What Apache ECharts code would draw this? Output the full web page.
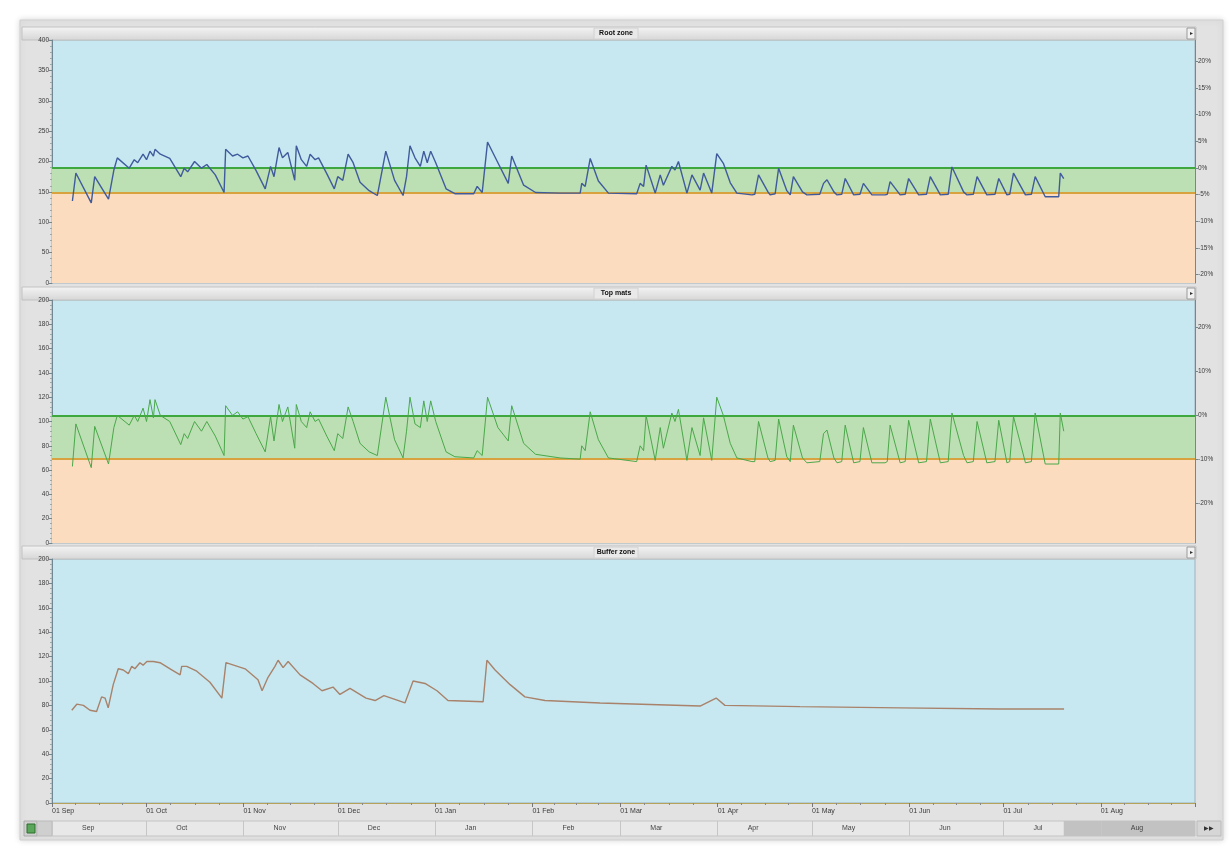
<!DOCTYPE html>
<html>
<head>
<meta charset="utf-8">
<title>Substrate sensors</title>
<script src="https://cdn.jsdelivr.net/npm/echarts@6/dist/echarts.min.js"></script>
<style>
  html, body { margin: 0; padding: 0; background: #ffffff; }
  #chart { width: 1231px; height: 859px; }
</style>
</head>
<body>
<div id="chart"></div>
<script>
// Season runs from 1 Sep to 31 Aug; samples are given as days since season start.
const seasonStart = [2012, 8, 1];
const seasonEnd = [2013, 7, 31];
const monthNames = ['Sep', 'Oct', 'Nov', 'Dec', 'Jan', 'Feb', 'Mar', 'Apr', 'May', 'Jun', 'Jul', 'Aug'];

// Shared sample days for the root zone and top mats sensors
const sampleDays = [
  6.5, 7.6, 12.5, 13.6, 18.0, 19.7, 20.8, 24.6, 26.2, 27.3, 29.0, 30.1, 31.2, 32.3, 32.8, 34.5, 37.5,
  41.0, 42.1, 43.2, 45.4, 47.6, 49.3, 52.0, 54.8, 55.3, 57.5, 59.1, 60.8, 62.4, 65.0, 67.9, 69.6,
  70.7, 72.3, 73.4, 75.1, 77.3, 77.8, 79.4, 81.1, 82.2, 83.8, 84.9, 87.5, 89.9, 91.0, 92.6, 94.3,
  95.9, 98.1, 101.0, 103.6, 106.3, 109.1, 111.8, 112.9, 114.0, 115.6, 117.3, 118.4, 119.5, 120.6,
  122.2, 125.5, 128.3, 134.3, 135.4, 137.0, 138.7, 142.0, 145.3, 146.4, 150.2, 154.0, 161.8, 168.2,
  168.7, 169.8, 171.4, 174.0, 177.2, 186.2, 187.3, 188.4, 189.2, 192.1, 193.7, 194.7, 197.4, 198.4,
  199.5, 202.2, 203.8, 206.4, 207.5, 210.1, 211.7, 213.8, 216.0, 218.1, 222.9, 223.8, 225.0, 228.0,
  228.7, 230.3, 231.4, 234.0, 235.1, 236.1, 239.0, 240.4, 244.5, 245.7, 246.8, 249.0, 250.0, 251.5,
  252.6, 255.3, 257.3, 258.4, 261.1, 265.3, 266.0, 266.9, 270.1, 271.7, 272.8, 276.0, 278.5, 279.7,
  282.9, 285.4, 286.6, 290.3, 291.4, 293.4, 294.6, 297.7, 300.3, 301.5, 304.1, 305.0, 306.2, 310.0,
  311.9, 313.1, 316.3, 320.6, 321.1, 322.2
];

const rootZone = [
  135, 181, 132, 175, 138, 186, 206, 189, 203, 198, 212, 203, 217, 209, 220, 212, 205,
  175, 189, 183, 200, 189, 195, 178, 149, 220, 209, 212, 206, 209, 185, 155, 192,
  175, 223, 206, 215, 169, 226, 203, 192, 212, 203, 206, 180, 155, 175, 169, 212,
  198, 166, 152, 144, 217, 169, 144, 175, 226, 206, 192, 217, 198, 217,
  198, 155, 147, 147, 159, 149, 232, 198, 164, 209, 161, 149, 148, 148,
  164, 159, 205, 168, 148, 147, 164, 159, 194, 148, 178, 161, 192, 186,
  200, 148, 178, 153, 181, 148, 213, 197, 165, 148, 145, 146, 178, 150,
  145, 147, 189, 152, 145, 175, 150, 145, 146, 164, 170, 150, 145, 146,
  172, 145, 146, 164, 145, 145, 146, 167, 145, 146, 172, 145, 146, 175,
  145, 146, 191, 150, 145, 146, 175, 145, 146, 172, 145, 146, 181, 145,
  146, 175, 142, 142, 181, 172
];

const topMats = [
  63, 98, 62, 96, 65, 95, 105, 97, 105, 100, 111, 100, 118, 103, 118, 105, 100,
  81, 90, 86, 100, 92, 100, 88, 72, 113, 105, 108, 102, 104, 90, 75, 104,
  84, 114, 100, 112, 78, 114, 100, 95, 108, 100, 102, 88, 76, 90, 86, 112,
  100, 82, 75, 72, 120, 85, 70, 92, 120, 98, 95, 117, 100, 117,
  100, 75, 71, 70, 76, 72, 120, 95, 84, 113, 82, 73, 70, 69,
  80, 76, 108, 85, 70, 67, 80, 76, 105, 68, 95, 78, 107, 100,
  110, 68, 95, 72, 103, 68, 120, 105, 82, 70, 67, 67, 100, 70,
  67, 68, 102, 71, 67, 97, 70, 66, 67, 90, 93, 70, 66, 67,
  97, 66, 67, 95, 66, 66, 67, 97, 66, 67, 101, 66, 67, 102,
  66, 67, 107, 72, 66, 67, 100, 66, 67, 101, 66, 67, 104, 66,
  67, 107, 65, 65, 107, 92
];

// Buffer zone sensor
const bufferDays = [
  6.3, 7.9, 10.0, 12.1, 14.2, 15.8, 16.9, 17.9, 19.5, 21.1, 22.7, 24.3, 25.4, 26.4, 28.0, 29.0,
  30.2, 32.3, 34.4, 37.6, 40.8, 41.3, 42.9, 46.1, 50.3, 54.1, 55.4, 61.5, 65.6, 66.9, 68.8, 71.0,
  72.0, 73.6, 75.2, 79.0, 83.1, 86.0, 89.5, 91.7, 94.9, 100.0, 102.9, 105.7, 109.2, 112.4, 115.0,
  118.8, 122.6, 126.1, 137.3, 138.5, 141.1, 145.9, 150.6, 157.0, 174.5, 206.4, 211.5, 214.3,
  238.2, 270.1, 301.9, 322.3
];
const bufferZone = [
  76, 81, 80, 76, 75, 87, 86, 78, 97, 110, 109, 106, 112, 110, 115, 113,
  116, 116, 115, 110, 105, 112, 112, 108, 99, 86, 115, 110, 101, 92, 103, 112,
  117, 111, 116, 105, 98, 92, 95, 89, 94, 86, 84, 88, 85, 82, 100,
  98, 92, 84, 83, 117, 109, 97, 87, 84, 82, 79.5, 86, 80,
  79, 78, 77, 77
];

// Target band limits [lower, upper] for each panel
const rootLimits = [148, 190];
const matLimits = [69, 105];

// Right-hand relative scale labels (percent)
const rootPctTicks = [-20, -15, -10, -5, 0, 5, 10, 15, 20];
const matPctTicks = [-20, -10, 0, 10, 20];

const DAY = 86400000;
const t0 = new Date(seasonStart[0], seasonStart[1], seasonStart[2]).getTime();
const t1 = new Date(seasonEnd[0], seasonEnd[1], seasonEnd[2]).getTime();
const toTime = d => t0 + d * DAY;
const pairs = (days, vals) => days.map((d, i) => [toTime(d), vals[i]]);

const FONT = 'Liberation Sans, Arial, sans-serif';
const C = {
  plot: '#c7e8f1', green: '#bcdfb3', orange: '#fcdcbf',
  greenLine: '#3ea83e', orangeLine: '#d8a23e',
  chrome: '#e2e2e2', border: '#9fb0b8', text: '#3a3a3a'
};

const chart = echarts.init(document.getElementById('chart'), null, { renderer: 'canvas' });

const grids = [
  { left: 52, right: 36, top: 40, height: 243 },
  { left: 52, right: 36, top: 300, height: 243 },
  { left: 52, right: 36, top: 559, height: 244 },
  { left: 52, right: 36, top: 821, height: 15 }
].map(g => Object.assign({
  show: true, backgroundColor: C.plot, borderColor: C.border, borderWidth: 1
}, g));
grids[3].backgroundColor = '#e8e8e8';
grids[3].borderColor = '#c4c4c4';

function timeAxis(gridIndex, showLabels) {
  return {
    type: 'time', gridIndex, min: t0, max: t1,
    minInterval: 28 * DAY, maxInterval: 31 * DAY,
    axisLine: { show: showLabels, lineStyle: { color: '#b5a35c', width: 1 } },
    axisTick: { show: showLabels, length: 4, lineStyle: { color: '#777' } },
    minorTick: { show: showLabels, splitNumber: 4, length: 2, lineStyle: { color: '#888' } },
    splitLine: { show: false },
    axisLabel: {
      show: showLabels, align: 'left', fontSize: 7, color: C.text, fontFamily: FONT, margin: 5,
      formatter: v => '01 ' + monthNames[(new Date(v).getMonth() + 4) % 12]
    }
  };
}

// Month navigator strip under the panels
const stripAxis = {
  type: 'time', gridIndex: 3, min: t0, max: t1, z: 10,
  minInterval: 28 * DAY, maxInterval: 31 * DAY,
  axisLine: { show: false },
  axisTick: { show: true, inside: true, length: 15, lineStyle: { color: '#c6c6c6' } },
  splitLine: { show: false },
  axisLabel: {
    show: true, inside: true, align: 'left', verticalAlign: 'middle', margin: 8,
    padding: [0, 0, 0, 30], fontSize: 7, color: '#444', fontFamily: FONT, showMaxLabel: false,
    formatter: v => monthNames[(new Date(v).getMonth() + 4) % 12]
  }
};

function leftAxis(gridIndex, max, interval) {
  return {
    type: 'value', gridIndex, min: 0, max, interval, position: 'left',
    axisLine: { show: true, lineStyle: { color: '#6f8894' } },
    axisTick: { show: true, length: 3, lineStyle: { color: '#6f8894' } },
    minorTick: { show: true, splitNumber: 5, length: 2, lineStyle: { color: '#9aa' } },
    splitLine: { show: false },
    axisLabel: { fontSize: 6.5, color: C.text, fontFamily: FONT, margin: 3 }
  };
}

function pctAxis(gridIndex, min, max, ticks) {
  return {
    type: 'value', gridIndex, min, max, position: 'right',
    axisLine: { show: true, lineStyle: { color: '#6f8894' } },
    axisTick: { show: true, length: 3, customValues: ticks, lineStyle: { color: '#6f8894' } },
    splitLine: { show: false },
    axisLabel: { customValues: ticks, fontSize: 6.5, color: C.text, fontFamily: FONT, margin: 3,
      formatter: v => v + '%' }
  };
}

// Band fill and limit lines live on their own series, drawn below the sensor traces
function bandSeries(xi, yi, limits) {
  return {
    name: 'target band', type: 'line', xAxisIndex: xi, yAxisIndex: yi, z: 1,
    data: [[t0, limits[0]]], showSymbol: false, lineStyle: { opacity: 0 }, silent: true,
    markArea: {
      silent: true,
      data: [
        [{ yAxis: 0, itemStyle: { color: C.orange } }, { yAxis: limits[0] }],
        [{ yAxis: limits[0], itemStyle: { color: C.green } }, { yAxis: limits[1] }]
      ]
    },
    markLine: {
      silent: true, symbol: 'none', label: { show: false },
      data: [
        { yAxis: limits[0], lineStyle: { color: C.orangeLine, width: 2, type: 'solid' } },
        { yAxis: limits[1], lineStyle: { color: C.greenLine, width: 2, type: 'solid' } }
      ]
    }
  };
}

function titleBar(y, label) {
  return [
    { type: 'rect', shape: { x: 22, y: y, width: 1174, height: 13 },
      style: { fill: new echarts.graphic.LinearGradient(0, 0, 0, 1, [
        { offset: 0, color: '#f4f4f4' }, { offset: 1, color: '#d6d6d6' }]), stroke: '#c2c2c2', lineWidth: 1 } },
    { type: 'rect', shape: { x: 594, y: y + 1, width: 44, height: 11 },
      style: { fill: '#e9e9e9', stroke: '#d2d2d2' } },
    { type: 'text', x: 616, y: y + 6.5,
      style: { text: label, fill: '#111', font: 'bold 7px ' + FONT, textAlign: 'center', textVerticalAlign: 'middle' } },
    { type: 'rect', shape: { x: 1187, y: y + 1, width: 8, height: 11 },
      style: { fill: '#f2f2f2', stroke: '#9a9a9a' } },
    { type: 'text', x: 1191, y: y + 6.5,
      style: { text: '▸', fill: '#333', font: '6px ' + FONT, textAlign: 'center', textVerticalAlign: 'middle' } }
  ];
}

const graphic = [
  { type: 'rect', z: -10, shape: { x: 20, y: 20, width: 1203, height: 820 },
    style: { fill: C.chrome, stroke: '#cfcfcf', lineWidth: 1, shadowBlur: 6, shadowColor: 'rgba(0,0,0,0.15)' } },
  ...titleBar(27, 'Root zone'),
  ...titleBar(287, 'Top mats'),
  ...titleBar(546, 'Buffer zone'),
  // navigator end caps
  { type: 'rect', shape: { x: 24, y: 821, width: 13, height: 15 }, style: { fill: '#d0d0d0', stroke: '#aaa' } },
  { type: 'rect', shape: { x: 27, y: 824, width: 8, height: 9 }, style: { fill: '#5aa65a', stroke: '#2f6f2f' } },
  { type: 'rect', shape: { x: 37, y: 821, width: 15, height: 15 }, style: { fill: '#cfcfcf', stroke: '#bbb' } },
  { type: 'rect', shape: { x: 1197, y: 821, width: 24, height: 15 }, style: { fill: '#d6d6d6', stroke: '#bbb' } },
  { type: 'text', x: 1209, y: 828.5,
    style: { text: '▶▶', fill: '#333', font: '6px ' + FONT, textAlign: 'center', textVerticalAlign: 'middle' } }
];

const lastDay = sampleDays[sampleDays.length - 1];

const option = {
  animation: false,
  backgroundColor: '#ffffff',
  textStyle: { fontFamily: FONT },
  graphic,
  grid: grids,
  xAxis: [timeAxis(0, false), timeAxis(1, false), timeAxis(2, true), stripAxis],
  yAxis: [
    leftAxis(0, 400, 50),
    pctAxis(0, -21.6, 24.0, rootPctTicks),
    leftAxis(1, 200, 20),
    pctAxis(1, -29.0, 26.2, matPctTicks),
    leftAxis(2, 200, 20),
    { type: 'value', gridIndex: 3, min: 0, max: 1, show: false }
  ],
  series: [
    bandSeries(0, 0, rootLimits),
    bandSeries(1, 2, matLimits),
    {
      name: 'Root zone', type: 'line', xAxisIndex: 0, yAxisIndex: 0,
      data: pairs(sampleDays, rootZone), showSymbol: false,
      lineStyle: { color: '#3f5b9c', width: 1.4 }, itemStyle: { color: '#3f5b9c' }, z: 5
    },
    {
      name: 'Top mats', type: 'line', xAxisIndex: 1, yAxisIndex: 2,
      data: pairs(sampleDays, topMats), showSymbol: false,
      lineStyle: { color: '#4aa84a', width: 1 }, itemStyle: { color: '#4aa84a' }, z: 5
    },
    {
      name: 'Buffer zone', type: 'line', xAxisIndex: 2, yAxisIndex: 4,
      data: pairs(bufferDays, bufferZone), showSymbol: false,
      lineStyle: { color: '#a8826a', width: 1.4 }, itemStyle: { color: '#a8826a' }, z: 5
    },
    {
      name: 'range', type: 'line', xAxisIndex: 3, yAxisIndex: 5, z: 1,
      data: [[toTime(lastDay), 0.5]], showSymbol: false, lineStyle: { opacity: 0 },
      markArea: { silent: true, itemStyle: { color: '#c2c2c2' },
        data: [[{ xAxis: toTime(lastDay) }, { xAxis: t1 }]] }
    }
  ]
};

chart.setOption(option);
</script>
</body>
</html>
